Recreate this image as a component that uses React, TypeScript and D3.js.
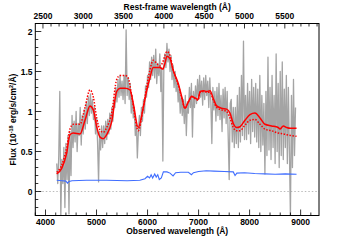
import React from 'react';
import * as d3 from 'd3';

const W = 355;
const H = 240;

// Observed spectrum (grey), regular grid starting 4220 Å, 20 Å step
const GRAY_START = 4220;
const GRAY_STEP = 20;
const grayFlux = [
  0.35, 0.10, 0.45, 1.25, -0.32,
  0.40, 0.10, 0.55, -0.20, 0.60, 0.15, 0.70, -0.28, 0.75, 0.20,
  0.95, 0.55, 0.88, 0.62, 1.00, 0.50, 0.85, 0.70, 1.05, 0.58,
  0.95, 0.72, 1.02, 0.78, 1.12, 0.85, 1.18, 0.95, 1.22, 0.98,
  1.15, 0.90, 1.05, 0.72, 0.92, 0.62, 0.12, 0.75, 0.52, 0.82,
  0.55, 0.82, 0.60, 0.88, 0.65, 0.90, 0.72, 0.98, 0.78, 1.05,
  0.88, 1.15, 1.05, 1.30, 1.12, 1.40, 1.18, 1.45, 1.20, 1.38,
  1.15, 1.45, 1.10, 2.02, 1.20, 1.42, 1.15, 1.35, 0.98, 1.20,
  0.92, 1.05, 0.70, 0.88, 0.42, 0.75, 0.95, 0.70, 1.05, 0.88,
  1.15, 0.98, 1.32, 1.18, 1.45, 1.30, 1.62, 1.40, 1.68, 1.45,
  1.70, 1.42, 1.78, 1.35, 1.60, 1.45, 1.72, 1.25, 1.55, 0.38,
  1.58, 1.72, 1.55, 1.85, 1.62, 1.78, 1.50, 1.70, 1.40, 1.58,
  1.30, 1.50, 1.25, 1.38, 1.12, 1.30, 0.98, 1.20, 0.95, 1.15,
  0.85, 1.20, 0.70, 1.12, 0.98, 1.30, 1.05, 1.35, 0.68, 1.25,
  1.05, 1.32, 1.10, 1.40, 1.15, 1.45, 1.18, 1.38, 1.08, 1.42,
  1.15, 1.45, 1.20, 1.38, 1.05, 1.42, 1.12, 0.60, 1.30, 1.02,
  1.25, 0.88, 1.30, 0.95, 1.35, 0.90, 1.20, 0.75, 1.28, 0.92,
  1.30, 0.85, 1.25, 0.70, 0.15, 1.10, 1.15, 0.62, 1.05, 0.55,
  1.05, 0.60, 1.20, 0.55, 1.30, 0.62, 1.45, 0.70, 1.88, 0.65,
  1.20, 0.65, 1.35, 0.72, 1.25, 0.60, 1.40, 0.75, 1.30, 0.68,
  1.35, 0.62, 1.28, 0.55, 1.45, 0.50, 1.20, 0.58, 1.10, 0.22,
  1.25, 0.45, 1.68, 0.52, 1.30, 0.40, 1.45, 0.55, 1.20, 0.35,
  1.72, 0.50, 1.35, 0.30, 1.50, 0.45, 1.62, 0.40, 1.28, 0.55,
  1.45, 0.35, 1.30, 0.50, -0.32, 1.20, 0.30, 1.40, 0.45, 1.05,
];

// Best-fit model (solid red)
const modelWave = [4219, 4317, 4415, 4480, 4545, 4676, 4774, 4872, 4937, 5003, 5068, 5133, 5199, 5297, 5395, 5460, 5558, 5656, 5720, 5818, 5916, 5980, 6047, 6110, 6180, 6240, 6300, 6340, 6380, 6440, 6500, 6602, 6667, 6733, 6800, 6864, 6930, 6990, 7030, 7100, 7160, 7223, 7290, 7354, 7450, 7550, 7615, 7680, 7746, 7811, 7909, 8007, 8105, 8203, 8300, 8430, 8560, 8595, 8660, 8726, 8800, 8920];
const modelFlux = [0.22, 0.29, 0.48, 0.71, 0.73, 0.72, 0.89, 1.07, 1.02, 0.81, 0.68, 0.66, 0.71, 0.87, 1.25, 1.29, 1.29, 1.27, 1.10, 0.80, 1.05, 1.25, 1.42, 1.55, 1.55, 1.55, 1.53, 1.60, 1.69, 1.66, 1.52, 1.35, 1.19, 1.04, 1.12, 1.19, 1.17, 1.15, 1.25, 1.26, 1.25, 1.26, 1.16, 1.07, 1.04, 1.03, 0.98, 0.85, 0.80, 0.81, 0.89, 0.96, 0.98, 0.92, 0.84, 0.82, 0.80, 0.78, 0.82, 0.80, 0.79, 0.79];

// Alternative model (dotted red)
const altWave = [4219, 4317, 4415, 4480, 4545, 4676, 4774, 4872, 4937, 5003, 5068, 5133, 5199, 5297, 5395, 5460, 5558, 5620, 5700, 5818, 5916, 5980, 6047, 6110, 6180, 6240, 6300, 6340, 6380, 6440, 6500, 6602, 6667, 6733, 6800, 6864, 6930, 6990, 7030, 7100, 7160, 7223, 7290, 7354, 7450, 7550, 7615, 7680, 7746, 7811, 7909, 8007, 8105, 8203, 8300, 8430, 8560, 8660, 8800, 8920];
const altFlux = [0.24, 0.33, 0.55, 0.78, 0.84, 0.84, 1.05, 1.27, 1.18, 0.92, 0.77, 0.74, 0.80, 0.98, 1.40, 1.45, 1.45, 1.42, 1.15, 0.76, 1.05, 1.30, 1.52, 1.64, 1.60, 1.57, 1.62, 1.70, 1.75, 1.70, 1.53, 1.33, 1.18, 1.04, 1.12, 1.18, 1.16, 1.14, 1.24, 1.25, 1.24, 1.24, 1.14, 1.05, 1.02, 1.00, 0.92, 0.80, 0.76, 0.76, 0.83, 0.89, 0.90, 0.84, 0.78, 0.76, 0.73, 0.72, 0.70, 0.69];

// Error spectrum (blue)
const errWave = [4220, 4330, 4400, 4430, 4460, 4520, 4800, 5200, 5600, 5850, 5950, 6000, 6040, 6070, 6100, 6140, 6170, 6200, 6230, 6270, 6310, 6380, 6440, 6500, 6550, 6650, 6800, 6860, 6900, 7000, 7150, 7300, 7500, 7680, 7715, 7750, 7900, 8100, 8300, 8500, 8700, 8920];
const errFlux = [0.14, 0.135, 0.13, 0.105, 0.125, 0.135, 0.14, 0.14, 0.135, 0.14, 0.16, 0.19, 0.17, 0.21, 0.17, 0.22, 0.18, 0.21, 0.15, 0.17, 0.245, 0.245, 0.23, 0.195, 0.235, 0.24, 0.24, 0.21, 0.235, 0.25, 0.26, 0.255, 0.25, 0.245, 0.20, 0.23, 0.235, 0.225, 0.22, 0.215, 0.22, 0.215];

const obsTicks = [4000, 5000, 6000, 7000, 8000, 9000];
const restTicks = [2500, 3000, 3500, 4000, 4500, 5000, 5500];
const fluxTicks = [0, 0.5, 1, 1.5, 2];
const fluxTickLabels = ['0', '0.5', '1', '1.5', '2'];
const ONE_PLUS_Z = 1.58;

const FONT = '"Liberation Sans", Arial, Helvetica, sans-serif';

export default function App() {
  const left = 35.3, right = 319, top = 23.5, bottom = 215.5;
  const x = d3.scaleLinear().domain([3800, 9360]).range([left, right]);
  const y = d3.scaleLinear().domain([-0.3, 2.1]).range([bottom, top]);

  const grayPts: [number, number][] = grayFlux.map((v, i) => [GRAY_START + i * GRAY_STEP, v]);
  const lin = d3.line<[number, number]>().x(d => x(d[0])).y(d => y(d[1]));
  const smooth = d3.line<[number, number]>().x(d => x(d[0])).y(d => y(d[1])).curve(d3.curveMonotoneX);

  const modelPts = modelWave.map((w, i) => [w, modelFlux[i]] as [number, number]);
  const altPts = altWave.map((w, i) => [w, altFlux[i]] as [number, number]);
  const errPts = errWave.map((w, i) => [w, errFlux[i]] as [number, number]);

  const obsMinor = d3.range(3800, 9201, 200);
  const restMinor = d3.range(2500, 5901, 100);
  const fluxMinor = d3.range(-3, 22, 1).map(v => v / 10);

  return (
    <svg width={W} height={H} style={{ position: 'absolute', left: 0, top: 0, background: '#fff' }} fontFamily={FONT}>
      <defs>
        <clipPath id="plotclip">
          <rect x={left} y={top} width={right - left} height={bottom - top} />
        </clipPath>
      </defs>
      <rect x={0} y={0} width={W} height={H} fill="#fff" />
      <g clipPath="url(#plotclip)">
        <line x1={left} x2={right} y1={y(0)} y2={y(0)} stroke="#bbbbbb" strokeWidth={1} strokeDasharray="1.5,2" />
        <path d={lin(grayPts) || ''} fill="none" stroke="#a4a4a4" strokeWidth={1.3} strokeLinejoin="round" />
        <path d={lin(errPts) || ''} fill="none" stroke="#3f6dff" strokeWidth={1.1} />
        <path d={smooth(altPts) || ''} fill="none" stroke="#ff0000" strokeWidth={1.5} strokeDasharray="1.5,1.5" />
        <path d={smooth(modelPts) || ''} fill="none" stroke="#ff0000" strokeWidth={1.5} />
      </g>
      <rect x={left} y={top} width={right - left} height={bottom - top} fill="none" stroke="#000" strokeWidth={1} />
      {/* bottom ticks */}
      {obsMinor.map(w => (
        <line key={'bm' + w} x1={x(w)} x2={x(w)} y1={bottom} y2={bottom - (w % 1000 === 0 ? 6 : 3)} stroke="#000" strokeWidth={0.8} />
      ))}
      {obsTicks.map(w => (
        <text key={'bl' + w} x={x(w)} y={224.5} fontSize={8.5} fontWeight="bold" textAnchor="middle">{w}</text>
      ))}
      {/* top ticks (rest frame) */}
      {restMinor.map(r => (
        <line key={'tm' + r} x1={x(r * ONE_PLUS_Z)} x2={x(r * ONE_PLUS_Z)} y1={top} y2={top + (r % 500 === 0 ? 5 : 3)} stroke="#000" strokeWidth={0.8} />
      ))}
      {restTicks.map(r => (
        <text key={'tl' + r} x={x(r * ONE_PLUS_Z)} y={18.5} fontSize={8.5} fontWeight="bold" textAnchor="middle">{r}</text>
      ))}
      {/* left ticks */}
      {fluxMinor.map(v => (
        <line key={'lm' + v} x1={left} x2={left + (Math.abs(v * 2 - Math.round(v * 2)) < 1e-6 ? 6 : 3)} y1={y(v)} y2={y(v)} stroke="#000" strokeWidth={0.8} />
      ))}
      {fluxTicks.map((v, i) => (
        <text key={'ll' + v} x={32.5} y={y(v) + 3} fontSize={8.5} fontWeight="bold" textAnchor="end">{fluxTickLabels[i]}</text>
      ))}
      <text x={177.2} y={9.5} fontSize={8.5} fontWeight="bold" textAnchor="middle">Rest-frame wavelength (Å)</text>
      <text x={177.2} y={233.5} fontSize={8.5} fontWeight="bold" textAnchor="middle">Observed wavelength (Å)</text>
      <text transform="translate(16.3,119.5) rotate(-90)" fontSize={8.5} fontWeight="bold" textAnchor="middle">
        Flux (10<tspan fontSize={5.5} dy={-3.5}>-18</tspan><tspan dy={3.5}> erg/s/cm</tspan><tspan fontSize={5.5} dy={-3.5}>2</tspan><tspan dy={3.5}>/Å)</tspan>
      </text>
    </svg>
  );
}
